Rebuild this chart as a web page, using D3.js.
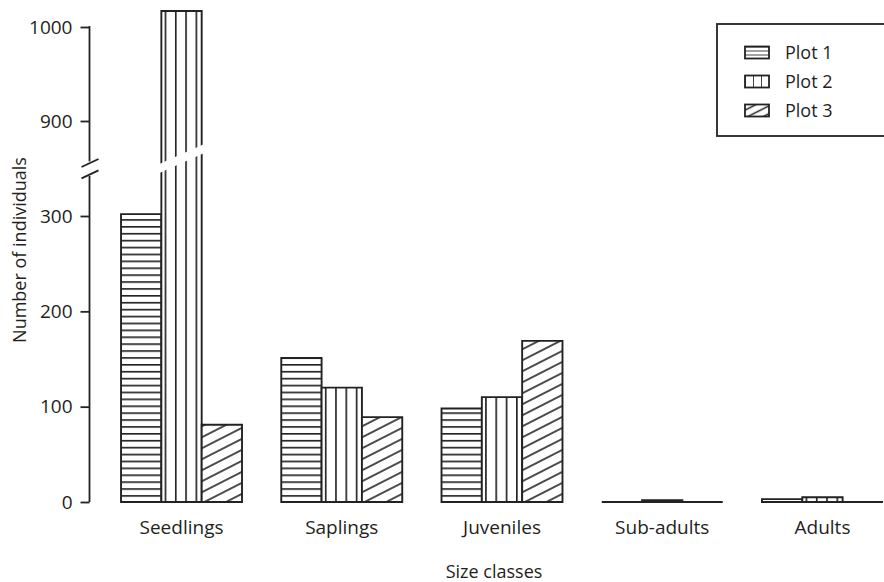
<!DOCTYPE html>
<html>
<head>
<meta charset="utf-8">
<script src="https://cdn.jsdelivr.net/npm/d3@7"></script>
<style>
  body { margin: 0; background: #fff; }
  text { font-family: "Open Sans", sans-serif; fill: #231f20; }
</style>
</head>
<body>
<svg id="chart"></svg>
<script>
const categories = ['Seedlings', 'Saplings', 'Juveniles', 'Sub-adults', 'Adults']
const plots = ['Plot 1', 'Plot 2', 'Plot 3']
const plot1 = [302, 151, 98, 0, 3]
const plot2 = [1017, 120, 110, 2, 5]
const plot3 = [81, 89, 169, 0, 0]
const lowTicks = [0, 100, 200, 300]
const highTicks = [900, 1000]

const width = 884
const height = 582
const ink = '#222'

const data = categories.map((c, i) => ({
    cat: c,
    values: [plot1[i], plot2[i], plot3[i]]
}))

const svg = d3.select('#chart')
    .attr('width', width)
    .attr('height', height)

// patterns
const defs = svg.append('defs')

const hpat = defs.append('pattern')
    .attr('id', 'p0')
    .attr('patternUnits', 'userSpaceOnUse')
    .attr('width', 10).attr('height', 6.9)
    .attr('y', 502)
hpat.append('rect').attr('width', 10).attr('height', 6.9).attr('fill', '#fff')
hpat.append('line')
    .attr('x1', 0).attr('x2', 10).attr('y1', 0.8).attr('y2', 0.8)
    .attr('stroke', ink).attr('stroke-width', 1.7)

const vpat = defs.append('pattern')
    .attr('id', 'p1')
    .attr('patternUnits', 'userSpaceOnUse')
    .attr('width', 10.3).attr('height', 10)
    .attr('x', 168 - 0.8)
vpat.append('rect').attr('width', 10.3).attr('height', 10).attr('fill', '#fff')
vpat.append('line')
    .attr('x1', 0.8).attr('x2', 0.8).attr('y1', 0).attr('y2', 10)
    .attr('stroke', ink).attr('stroke-width', 1.7)

const dpat = defs.append('pattern')
    .attr('id', 'p2')
    .attr('patternUnits', 'userSpaceOnUse')
    .attr('width', 10).attr('height', 9.8)
    .attr('patternTransform', 'rotate(-27)')
dpat.append('rect').attr('width', 10).attr('height', 9.8).attr('fill', '#fff')
dpat.append('line')
    .attr('x1', 0).attr('x2', 10).attr('y1', 4.9).attr('y2', 4.9)
    .attr('stroke', ink).attr('stroke-width', 1.6)

// x-range
const x0 = d3.scaleBand()
    .domain(categories)
    .range([101.4, 902.6])
    .paddingInner(0.245)
    .paddingOuter(0.1225)

const x1 = d3.scaleBand()
    .domain(plots)
    .range([0, x0.bandwidth()])

// y-range, broken axis
const yLow = d3.scaleLinear().domain([0, 300]).range([502, 216])
const yHigh = d3.scaleLinear().domain([900, 1000]).range([121, 27])
const lowTop = 342
const highBottom = 857
const breakY = (yLow(lowTop) + yHigh(highBottom)) / 2

const yOf = v => v > lowTop ? yHigh(v) : yLow(v)

// bars
const groups = svg.append('g')
    .selectAll('g')
    .data(data)
    .join('g')
    .attr('transform', d => `translate(${x0(d.cat)},0)`)

groups.each(function(d) {
    const g = d3.select(this)
    d.values.forEach((v, j) => {
        const bx = x1(plots[j])
        const bw = x1.bandwidth()
        const top = yOf(v)
        const base = yLow(0)
        g.append('path')
            .attr('d', `M${bx},${base}V${top}H${bx + bw}V${base}Z`)
            .attr('fill', `url(#p${j})`)
            .attr('stroke', ink)
            .attr('stroke-width', 1.9)
            .attr('stroke-linejoin', 'miter')

        if (v > lowTop) {
            // white slanted gap across the broken bar
            const cL = breakY - 1
            const slope = 18 / bw
            const xa = bx - 2, xb = bx + bw + 2
            const ya = cL + 2 * slope, yb = cL - (bw + 2) * slope
            g.append('polygon')
                .attr('points', [
                    [xa, ya - 4.5], [xb, yb - 4.5],
                    [xb, yb + 4.5], [xa, ya + 4.5]
                ].map(p => p.join(',')).join(' '))
                .attr('fill', '#fff')
        }
    })
})

// y-axis
const axisX = 89.5
const fmt = d3.format('d')

svg.append('g')
    .attr('transform', `translate(${axisX},0)`)
    .call(d3.axisLeft(yLow).tickValues(lowTicks).tickFormat(fmt).tickSize(9).tickPadding(8).tickSizeOuter(0))
    .call(g => g.select('.domain').remove())

svg.append('g')
    .attr('transform', `translate(${axisX},0)`)
    .call(d3.axisLeft(yHigh).tickValues(highTicks).tickFormat(fmt).tickSize(9).tickPadding(8).tickSizeOuter(0))
    .call(g => g.select('.domain').remove())

svg.selectAll('.tick line').attr('stroke', ink).attr('stroke-width', 1.8)
svg.selectAll('.tick text')
    .attr('font-size', 19)
    .attr('font-family', '"Open Sans", sans-serif')
    .attr('fill', '#231f20')

// axis line segments around the break
svg.append('line')
    .attr('x1', axisX).attr('x2', axisX)
    .attr('y1', yLow(0)).attr('y2', yLow(lowTop))
    .attr('stroke', ink).attr('stroke-width', 1.8)
svg.append('line')
    .attr('x1', axisX).attr('x2', axisX)
    .attr('y1', yHigh(highBottom)).attr('y2', yHigh(1000) - 1)
    .attr('stroke', ink).attr('stroke-width', 1.8)

// break marks
;[-5.7, 5.7].forEach(off => {
    svg.append('line')
        .attr('x1', axisX - 8).attr('y1', breakY + off + 4)
        .attr('x2', axisX + 9).attr('y2', breakY + off - 4)
        .attr('stroke', ink).attr('stroke-width', 1.8)
})

// category labels
svg.append('g')
    .selectAll('text')
    .data(categories)
    .join('text')
    .attr('x', d => x0(d) + x0.bandwidth() / 2)
    .attr('y', 534)
    .attr('text-anchor', 'middle')
    .attr('font-size', 19)
    .text(d => d)

// axis titles
svg.append('text')
    .attr('x', 494)
    .attr('y', 578)
    .attr('text-anchor', 'middle')
    .attr('font-size', 18)
    .text('Size classes')

svg.append('text')
    .attr('transform', 'translate(26,250) rotate(-90)')
    .attr('text-anchor', 'middle')
    .attr('font-size', 18)
    .text('Number of individuals')

// legend
const legend = svg.append('g')

legend.append('rect')
    .attr('x', 717).attr('y', 24)
    .attr('width', 200).attr('height', 112)
    .attr('fill', '#fff')
    .attr('stroke', ink).attr('stroke-width', 1.8)

plots.forEach((p, j) => {
    const ly = 59 + j * 29
    legend.append('rect')
        .attr('x', 745).attr('y', ly - 12.5)
        .attr('width', 24).attr('height', 12)
        .attr('fill', `url(#lp${j})`)
        .attr('stroke', ink).attr('stroke-width', 1.8)
    legend.append('text')
        .attr('x', 785).attr('y', ly)
        .attr('font-size', 18)
        .text(p)
})

// legend swatch patterns, smaller than the bar ones
const lh = defs.append('pattern').attr('id', 'lp0')
    .attr('patternUnits', 'userSpaceOnUse').attr('width', 10).attr('height', 4).attr('y', 46.5)
lh.append('rect').attr('width', 10).attr('height', 4).attr('fill', '#fff')
lh.append('line').attr('x1', 0).attr('x2', 10).attr('y1', 0).attr('y2', 0)
    .attr('stroke', ink).attr('stroke-width', 1.7)

const lv = defs.append('pattern').attr('id', 'lp1')
    .attr('patternUnits', 'userSpaceOnUse').attr('width', 8).attr('height', 10).attr('x', 745)
lv.append('rect').attr('width', 8).attr('height', 10).attr('fill', '#fff')
lv.append('line').attr('x1', 0).attr('x2', 0).attr('y1', 0).attr('y2', 10)
    .attr('stroke', ink).attr('stroke-width', 1.7)

const ld = defs.append('pattern').attr('id', 'lp2')
    .attr('patternUnits', 'userSpaceOnUse').attr('width', 10).attr('height', 7)
    .attr('patternTransform', 'translate(757,108) rotate(-27)')
ld.append('rect').attr('width', 10).attr('height', 7).attr('fill', '#fff')
ld.append('line').attr('x1', 0).attr('x2', 10).attr('y1', 3.5).attr('y2', 3.5)
    .attr('stroke', ink).attr('stroke-width', 1.5)
</script>
</body>
</html>
